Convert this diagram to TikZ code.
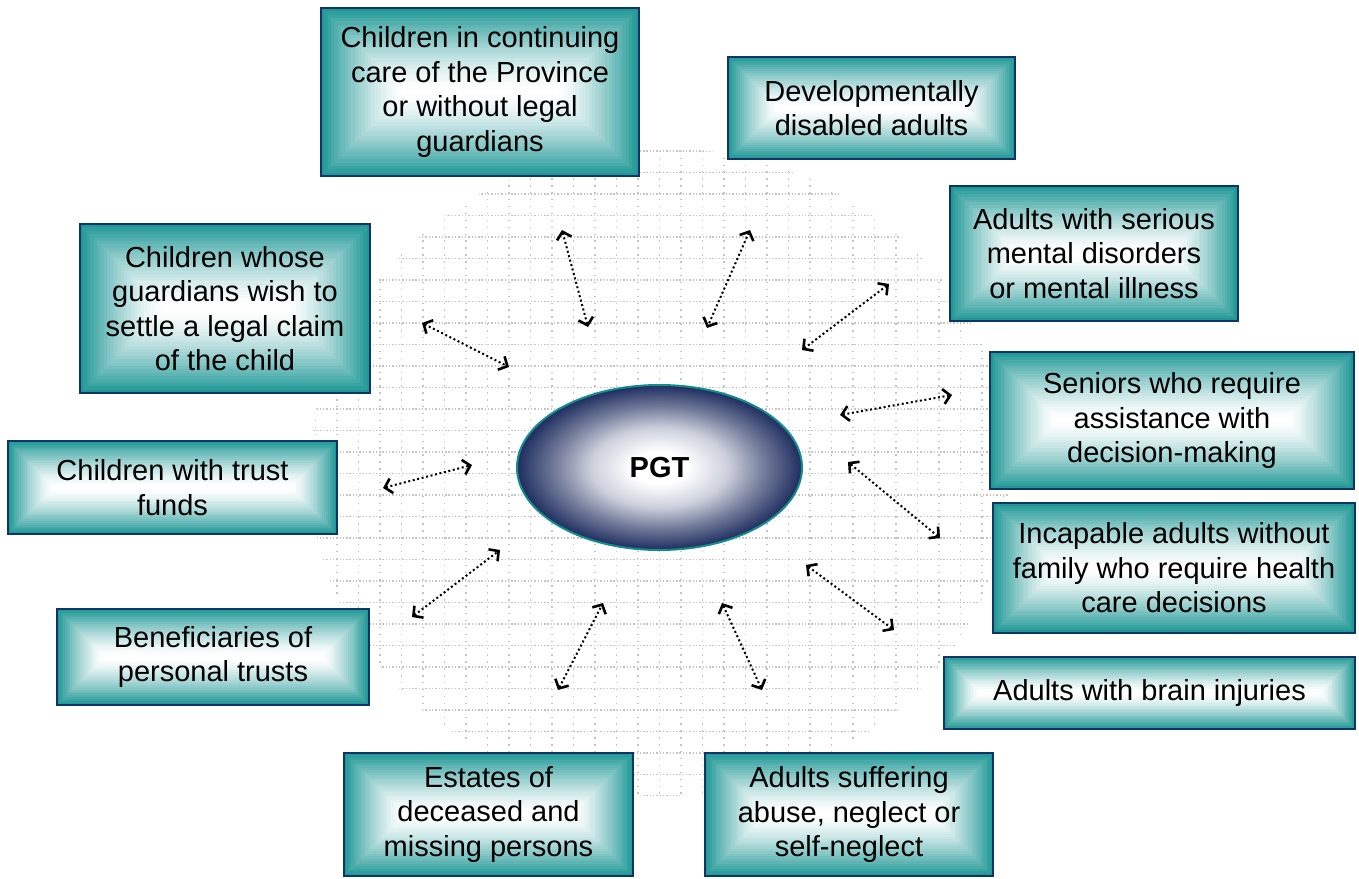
\documentclass[tikz,border=0pt]{standalone}
\usepackage{fontspec}
\setmainfont{Liberation Sans}
\usetikzlibrary{shapes.geometric,arrows.meta,calc}
\definecolor{boxteal}{RGB}{32,152,150}
\definecolor{boxborder}{RGB}{16,52,102}
\definecolor{pgtnavy}{RGB}{30,45,95}
\definecolor{pgtmid}{RGB}{120,128,158}
\definecolor{pgtlight}{RGB}{205,208,220}
\definecolor{pgtedge}{RGB}{20,140,140}
\definecolor{gridgray}{RGB}{196,196,196}
\pgfdeclareradialshading{pgtshade}{\pgfpoint{0bp}{0bp}}{color(0bp)=(white); color(5bp)=(white); color(12bp)=(pgtlight); color(18bp)=(pgtmid); color(25bp)=(pgtnavy); color(50bp)=(pgtnavy)}
\tikzset{
  gbox/.style={rectangle, draw=boxborder, line width=2.6pt, inner sep=0pt,
    align=center, text=black, font=\fontsize{29}{34.5}\selectfont,
    path picture={
      \foreach \k in {0,...,24}{
        \pgfmathsetmacro{\pct}{100*(1-\k/24)^1.4}
        \fill[boxteal!\pct!white] let \p1=(path picture bounding box.south west),
          \p2=(path picture bounding box.north east),
          \n1={(\y2-\y1)/2*\k/25} in
          (\x1+\n1,\y1+\n1) rectangle (\x2-\n1,\y2-\n1);
      }
    }},
  pgtnode/.style={ellipse, draw=pgtedge, line width=2pt, shading=pgtshade,
    minimum width=285pt, minimum height=165pt, inner sep=0pt,
    font=\fontsize{29}{34}\selectfont\bfseries},
  hgrid/.style={draw=gridgray, line width=1.4pt, dash pattern=on 1.4pt off 1.9pt},
  vgrid/.style={draw=gridgray, line width=1.4pt, dash pattern=on 1.4pt off 5.5pt},
  conn/.style={draw=black, line width=2pt, dash pattern=on 2pt off 2.6pt,
    {Straight Barb[length=7pt,width=15pt,line width=2.6pt]}-{Straight Barb[length=7pt,width=15pt,line width=2.6pt]}}
}
\begin{document}
\begin{tikzpicture}[x=1pt,y=-1pt]
\useasboundingbox (0,0) rectangle (1359,878);
% dotted grid background
\begin{scope}
  \clip (660,472) ellipse [x radius=350pt, y radius=324pt];
  \foreach \i in {0,...,32} \draw[hgrid] (290,129.5+21.5*\i) -- (1030,129.5+21.5*\i);
  \foreach \i in {0,...,34} \draw[vgrid] (294+21.5*\i,130) -- (294+21.5*\i,820);
\end{scope}
% centre
\node[pgtnode] (pgt) at (659.5,467.5) {PGT};
% boxes
\node[gbox, minimum width=318pt, minimum height=168pt] (b1) at (480,92) {Children in continuing\\care of the Province\\or without legal\\guardians};
\node[gbox, minimum width=287pt, minimum height=102pt] (b2) at (871.5,108) {Developmentally\\disabled adults};
\node[gbox, minimum width=288pt, minimum height=135pt] (b3) at (1094,253.5) {Adults with serious\\mental disorders\\or mental illness};
\node[gbox, minimum width=364pt, minimum height=137pt] (b4) at (1172,420.5) {Seniors who require\\assistance with\\decision-making};
\node[gbox, minimum width=362pt, minimum height=130pt] (b5) at (1174,568) {Incapable adults without\\family who require health\\care decisions};
\node[gbox, minimum width=411pt, minimum height=72pt] (b6) at (1149.5,693) {Adults with brain injuries};
\node[gbox, minimum width=288pt, minimum height=123pt] (b7) at (849,814.5) {Adults suffering\\abuse, neglect or\\self-neglect};
\node[gbox, minimum width=289pt, minimum height=123pt] (b8) at (488.5,814.5) {Estates of\\deceased and\\missing persons};
\node[gbox, minimum width=312pt, minimum height=96pt] (b9) at (213,657) {Beneficiaries of\\personal trusts};
\node[gbox, minimum width=329pt, minimum height=93pt] (b10) at (172.5,487.5) {Children with trust\\funds};
\node[gbox, minimum width=290pt, minimum height=169pt] (b11) at (225,308.5) {Children whose\\guardians wish to\\settle a legal claim\\of the child};
% connector end points
\coordinate (p1) at (562,230);  \coordinate (q1) at (588,327);
\coordinate (p2) at (750,230);  \coordinate (q2) at (707,328);
\coordinate (p3) at (889,284);  \coordinate (q3) at (802,350);
\coordinate (p4) at (952,395);  \coordinate (q4) at (840,415);
\coordinate (p5) at (940,538);  \coordinate (q5) at (848,462);
\coordinate (p6) at (894,630);  \coordinate (q6) at (806,565);
\coordinate (p7) at (762,690);  \coordinate (q7) at (722,603);
\coordinate (p8) at (558,690);  \coordinate (q8) at (603,603);
\coordinate (p9) at (412,617);  \coordinate (q9) at (500,550);
\coordinate (p10) at (383,488); \coordinate (q10) at (472,465);
\coordinate (p11) at (422,323); \coordinate (q11) at (509,367);
\foreach \n in {1,...,11} \draw[conn] (p\n) -- (q\n);
\end{tikzpicture}
\end{document}
